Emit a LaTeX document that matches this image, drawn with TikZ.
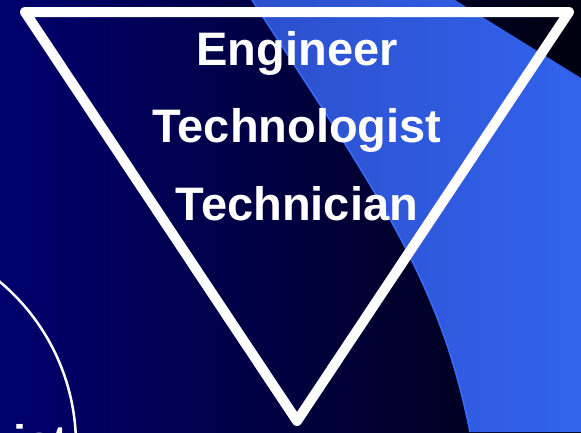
\documentclass[tikz,border=0pt]{standalone}
\usepackage{fontspec}
\setmainfont{Liberation Sans}
\definecolor{bgleft}{RGB}{0,0,110}
\definecolor{bgright}{RGB}{0,0,16}
\definecolor{bandleft}{RGB}{44,80,204}
\definecolor{bandright}{RGB}{50,98,236}
\definecolor{bandedge}{RGB}{58,108,255}
\tikzset{
  label/.style={text=white,font=\bfseries\fontsize{47}{47}\selectfont,inner sep=0pt},
  tri/.style={draw=white,line width=10pt,line join=round},
}
\begin{document}
\begin{tikzpicture}[x=1pt,y=-1pt]
\useasboundingbox (0,0) rectangle (581,432);
\clip (0,0) rectangle (581,432);
% background
\shade[left color=bgleft,right color=bgright] (0,0) rectangle (581,432);
% blue band
\shade[left color=bandleft,right color=bandright]
  (252,0) .. controls (382,200) and (440,282) .. (470,432)
  -- (581,432) -- (581,78) -- (455,0) -- cycle;
\draw[bandedge,line width=1.5pt] (252,0) .. controls (382,200) and (440,282) .. (470,432);
% circle at lower left
\draw[white,line width=2.5pt] (-137,445) circle[radius=213];
% triangle
\coordinate (tl) at (25,12);
\coordinate (tr) at (569,12);
\coordinate (ap) at (297,421);
\draw[tri] (tl) -- (tr) -- (ap) -- cycle;
% texts
\node[label,anchor=base] (eng) at (297,65) {Engineer};
\node[label,anchor=base] (tgist) at (297,142) {Technologist};
\node[label,anchor=base] (tcian) at (297,220) {Technician};
\node[label,anchor=base west] (ist) at (13,458) {ist};
\end{tikzpicture}
\end{document}
